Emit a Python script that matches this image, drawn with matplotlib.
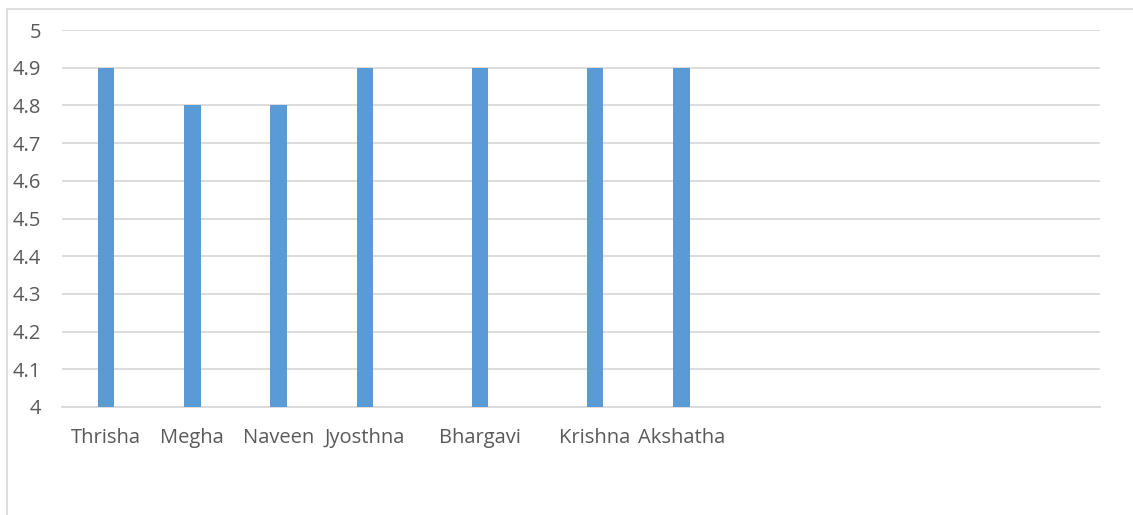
import matplotlib
matplotlib.use("Agg")
import matplotlib.pyplot as plt
from matplotlib.patches import Rectangle

# data
names = ["Thrisha", "Megha", "Naveen", "Jyosthna", "Bhargavi", "Krishna", "Akshatha"]
scores = [4.9, 4.8, 4.8, 4.9, 4.9, 4.9, 4.9]
# category slots (in thirds of a category width) as laid out in the picture
slots = [0, 3, 6, 9, 13, 17, 20]
yticks = [4, 4.1, 4.2, 4.3, 4.4, 4.5, 4.6, 4.7, 4.8, 4.9, 5]
ytick_labels = ["4", "4.1", "4.2", "4.3", "4.4", "4.5", "4.6", "4.7", "4.8", "4.9", "5"]

plt.rcParams['font.family'] = ['Open Sans', 'DejaVu Sans']

fig = plt.figure(figsize=(11.33, 5.15), dpi=100)
ax = fig.add_axes([62 / 1133, 1 - 407 / 515, (1100 - 62) / 1133, (407 - 30) / 515])

# chart frame border
fig.patches.append(Rectangle((7 / 1133, -0.1), 1.2, 1 - 9 / 515 + 0.1,
                             transform=fig.transFigure, fill=False,
                             edgecolor="#d9d9d9", linewidth=1.2))

ax.bar(slots, [s - 4 for s in scores], bottom=4, width=0.58, color="#5b9bd5", zorder=3)

ax.set_ylim(4, 5)
ax.set_xlim(-1.53, 34.55)
ax.set_yticks(yticks)
ax.set_yticklabels(ytick_labels)
ax.set_xticks(slots)
ax.set_xticklabels(names)
ax.yaxis.grid(True, color="#d9d9d9", linewidth=1.3, zorder=0)
ax.set_axisbelow(True)

for s in ["top", "right", "left"]:
    ax.spines[s].set_visible(False)
ax.spines["bottom"].set_color("#d9d9d9")
ax.spines["bottom"].set_linewidth(1.3)
ax.tick_params(axis="both", length=0, colors="#595959", labelsize=14.5)
ax.tick_params(axis="x", pad=15)
ax.tick_params(axis="y", pad=15)

fig.savefig("out.png", dpi=100)
